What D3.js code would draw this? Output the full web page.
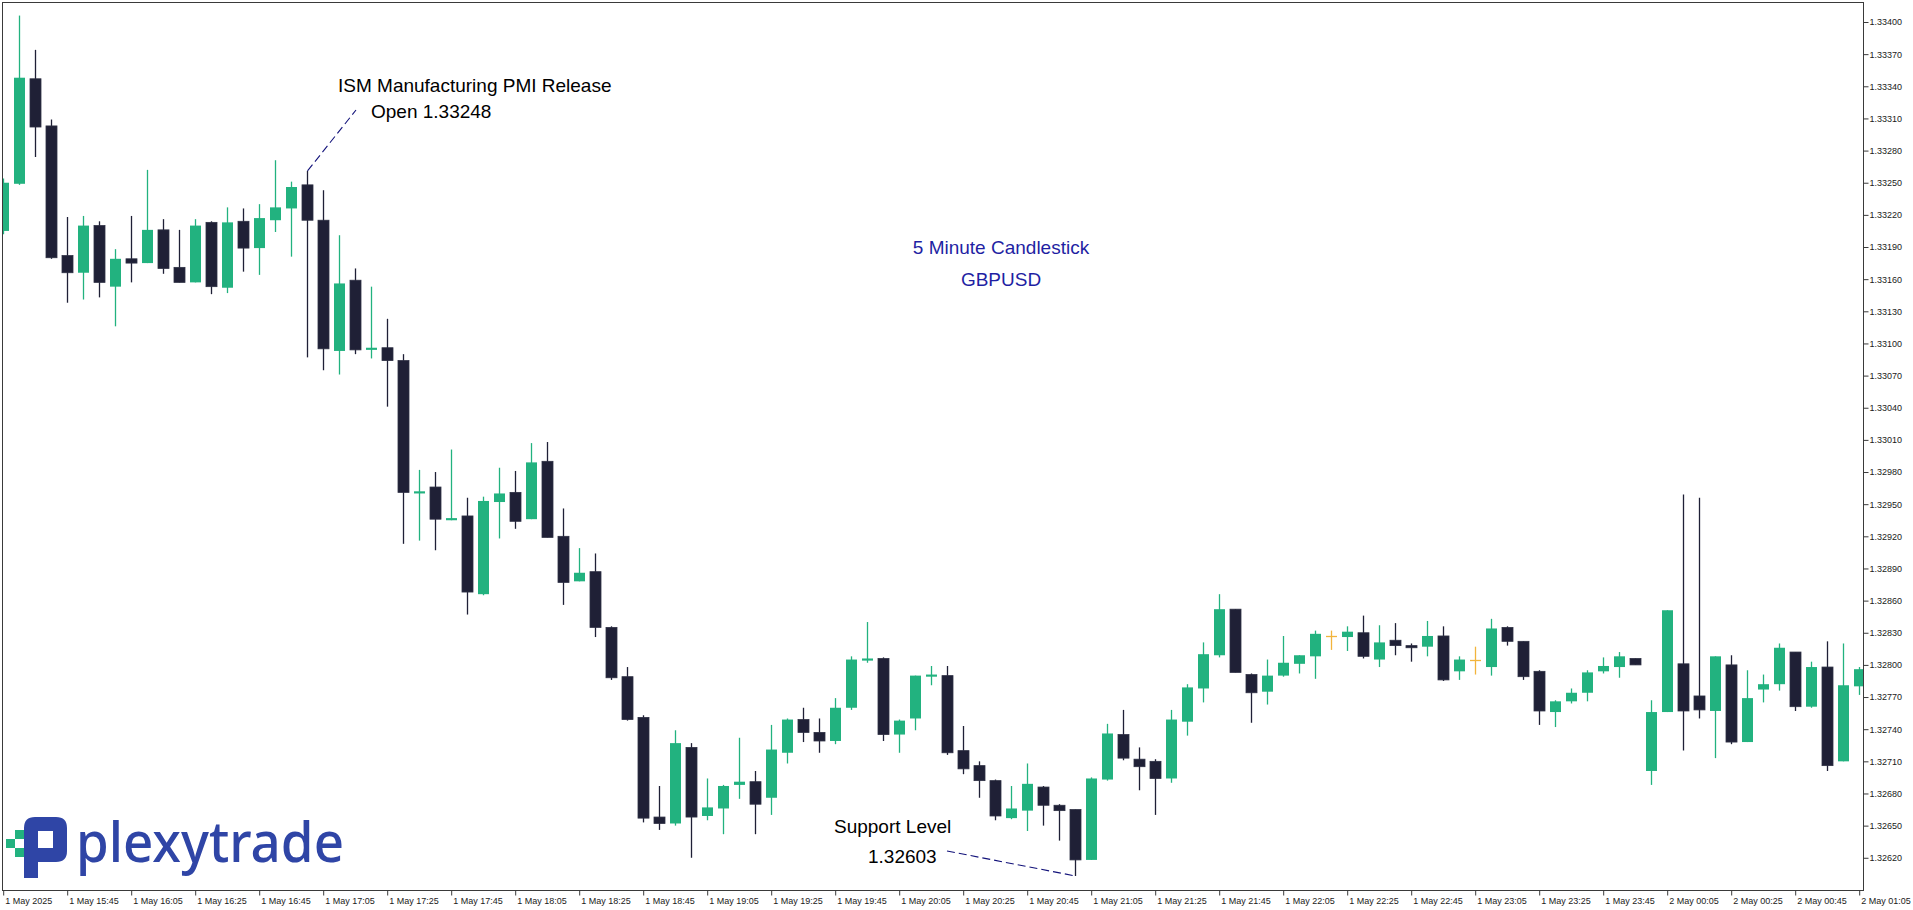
<!DOCTYPE html>
<html>
<head>
<meta charset="utf-8">
<script src="https://cdn.jsdelivr.net/npm/d3@7"></script>
<style>
  html, body { margin: 0; padding: 0; background: #ffffff; }
  svg { display: block; }
</style>
</head>
<body>
<svg id="chart" width="1913" height="910"></svg>
<script>
// ---------------- DATA ----------------
const startTime = "2025-05-01T15:25:00";   // first bar, 5-minute bars
const open = [
1.33205,1.33249,1.33347,1.33303,1.33182,1.33166,1.33210,1.33153,1.33179,1.33175,
1.33206,1.33171,1.33157,1.33213,1.33152,1.33214,1.33189,1.33215,1.33226,1.33248,
1.33215,1.33093,1.33159,1.33094,1.33096,1.33084,1.32960,1.32966,1.32935,1.32939,
1.32866,1.32952,1.32961,1.32936,1.32990,1.32920,1.32878,1.32887,1.32835,1.32789,
1.32751,1.32658,1.32652,1.32723,1.32659,1.32666,1.32688,1.32691,1.32676,1.32718,
1.32749,1.32737,1.32729,1.32760,1.32804,1.32806,1.32735,1.32750,1.32789,1.32790,
1.32720,1.32706,1.32692,1.32657,1.32664,1.32686,1.32669,1.32665,1.32618,1.32693,
1.32735,1.32712,1.32710,1.32694,1.32747,1.32778,1.32809,1.32852,1.32791,1.32775,
1.32790,1.32801,1.32808,1.32827,1.32826,1.32830,1.32805,1.32823,1.32818,1.32817,
1.32827,1.32794,1.32805,1.32798,1.32835,1.32822,1.32794,1.32756,1.32766,1.32774,
1.32794,1.32798,1.32806,1.32701,1.32756,1.32801,1.32771,1.32757,1.32800,1.32728,
1.32777,1.32782,1.32812,1.32761,1.32798,1.32710,1.32780];
const high = [
1.33254,1.33406,1.33374,1.33309,1.33218,1.33219,1.33214,1.33188,1.33219,1.33262,
1.33216,1.33206,1.33216,1.33214,1.33227,1.33226,1.33230,1.33271,1.33251,1.33261,
1.33243,1.33201,1.33170,1.33153,1.33123,1.33090,1.32982,1.32980,1.33001,1.32956,
1.32957,1.32984,1.32981,1.33007,1.33008,1.32946,1.32909,1.32904,1.32836,1.32798,
1.32753,1.32687,1.32739,1.32727,1.32694,1.32688,1.32732,1.32701,1.32744,1.32750,
1.32760,1.32750,1.32769,1.32808,1.32840,1.32807,1.32749,1.32790,1.32799,1.32799,
1.32743,1.32710,1.32693,1.32687,1.32708,1.32687,1.32670,1.32665,1.32695,1.32745,
1.32758,1.32723,1.32712,1.32758,1.32782,1.32821,1.32866,1.32852,1.32792,1.32805,
1.32827,1.32809,1.32832,1.32832,1.32836,1.32846,1.32837,1.32839,1.32820,1.32841,
1.32836,1.32808,1.32817,1.32843,1.32836,1.32822,1.32795,1.32767,1.32778,1.32795,
1.32807,1.32812,1.32806,1.32767,1.32851,1.32959,1.32956,1.32808,1.32809,1.32795,
1.32791,1.32820,1.32812,1.32803,1.32822,1.32820,1.32798];
const low = [
1.33202,1.33248,1.33274,1.33179,1.33138,1.33141,1.33143,1.33116,1.33157,1.33175,
1.33165,1.33157,1.33157,1.33146,1.33147,1.33167,1.33164,1.33204,1.33181,1.33087,
1.33075,1.33071,1.33090,1.33086,1.33041,1.32913,1.32916,1.32907,1.32935,1.32847,
1.32865,1.32918,1.32927,1.32936,1.32919,1.32856,1.32878,1.32826,1.32786,1.32748,
1.32653,1.32646,1.32650,1.32620,1.32655,1.32642,1.32675,1.32642,1.32660,1.32708,
1.32728,1.32718,1.32726,1.32758,1.32802,1.32729,1.32718,1.32739,1.32781,1.32716,
1.32698,1.32676,1.32655,1.32656,1.32645,1.32650,1.32636,1.32603,1.32618,1.32692,
1.32711,1.32683,1.32660,1.32690,1.32734,1.32765,1.32807,1.32793,1.32746,1.32763,
1.32789,1.32792,1.32787,1.32814,1.32813,1.32806,1.32798,1.32809,1.32803,1.32808,
1.32785,1.32786,1.32791,1.32790,1.32818,1.32786,1.32744,1.32742,1.32764,1.32766,
1.32792,1.32788,1.32800,1.32688,1.32756,1.32720,1.32750,1.32713,1.32726,1.32728,
1.32765,1.32776,1.32757,1.32760,1.32701,1.32710,1.32772];
const close = [
1.33250,1.33348,1.33302,1.33180,1.33166,1.33210,1.33157,1.33179,1.33175,1.33206,
1.33170,1.33157,1.33210,1.33153,1.33213,1.33189,1.33217,1.33227,1.33246,1.33215,
1.33095,1.33156,1.33094,1.33096,1.33084,1.32961,1.32962,1.32936,1.32937,1.32868,
1.32953,1.32960,1.32934,1.32989,1.32919,1.32877,1.32886,1.32835,1.32788,1.32749,
1.32657,1.32652,1.32727,1.32658,1.32667,1.32687,1.32691,1.32670,1.32721,1.32749,
1.32737,1.32729,1.32760,1.32805,1.32806,1.32735,1.32748,1.32790,1.32791,1.32718,
1.32703,1.32692,1.32659,1.32666,1.32689,1.32669,1.32664,1.32618,1.32694,1.32736,
1.32713,1.32705,1.32694,1.32749,1.32779,1.32810,1.32852,1.32793,1.32774,1.32790,
1.32802,1.32809,1.32829,1.32827,1.32831,1.32808,1.32821,1.32818,1.32816,1.32827,
1.32786,1.32805,1.32805,1.32834,1.32822,1.32789,1.32757,1.32766,1.32774,1.32793,
1.32799,1.32808,1.32800,1.32756,1.32851,1.32757,1.32758,1.32808,1.32728,1.32769,
1.32782,1.32816,1.32761,1.32798,1.32706,1.32781,1.32796];

const priceTicks = [1.33400,1.33370,1.33340,1.33310,1.33280,1.33250,1.33220,1.33190,1.33160,
  1.33130,1.33100,1.33070,1.33040,1.33010,1.32980,1.32950,1.32920,1.32890,1.32860,1.32830,
  1.32800,1.32770,1.32740,1.32710,1.32680,1.32650,1.32620];
const timeLabels = ["1 May 2025","1 May 15:45","1 May 16:05","1 May 16:25","1 May 16:45",
  "1 May 17:05","1 May 17:25","1 May 17:45","1 May 18:05","1 May 18:25","1 May 18:45",
  "1 May 19:05","1 May 19:25","1 May 19:45","1 May 20:05","1 May 20:25","1 May 20:45",
  "1 May 21:05","1 May 21:25","1 May 21:45","1 May 22:05","1 May 22:25","1 May 22:45",
  "1 May 23:05","1 May 23:25","1 May 23:45","2 May 00:05","2 May 00:25","2 May 00:45",
  "2 May 01:05"];
const labelEveryBars = 4;

const titleLines = ["5 Minute Candlestick", "GBPUSD"];
const ismNote = {bar: 19, lines: ["ISM Manufacturing PMI Release", "Open 1.33248"]};
const supportNote = {bar: 67, lines: ["Support Level", "1.32603"]};

// ---------------- LAYOUT ----------------
const W = 1913, H = 910;
const plot = {left: 2.5, top: 2.5, right: 1863.5, bottom: 890.5};
const colUp = "#22b27f", colDown = "#1f2036", colDoji = "#f2b43c";
const annColor = "#12127a";
const fontAxis = "'Liberation Sans', Arial, sans-serif";

const parse = d3.timeParse("%Y-%m-%dT%H:%M:%S");
const t0 = parse(startTime);
const bars = open.map((o, i) => ({
  t: d3.timeMinute.offset(t0, 5 * i),
  o, h: high[i], l: low[i], c: close[i]
}));

const x = d3.scaleTime()
  .domain([bars[0].t, bars[bars.length - 1].t])
  .range([2.7, 1858.7]);
const y = d3.scaleLinear()
  .domain([1.32620, 1.33400])
  .range([857.77, 22]);

const svg = d3.select("#chart");
svg.append("rect").attr("width", W).attr("height", H).attr("fill", "#fff");

// clip
svg.append("defs").append("clipPath").attr("id", "plotclip")
  .append("rect")
  .attr("x", plot.left + 0.5).attr("y", plot.top + 0.5)
  .attr("width", plot.right - plot.left - 1).attr("height", plot.bottom - plot.top - 1);

// ---------------- CANDLES ----------------
const gC = svg.append("g").attr("clip-path", "url(#plotclip)");
const bodyW = 11;
bars.forEach(b => {
  const cx = Math.round(x(b.t));
  const doji = b.o === b.c;
  const col = doji ? colDoji : (b.c > b.o ? colUp : colDown);
  gC.append("line")
    .attr("x1", cx + 0.5).attr("x2", cx + 0.5)
    .attr("y1", y(b.h)).attr("y2", y(b.l))
    .attr("stroke", col).attr("stroke-width", 1.3);
  if (doji) {
    gC.append("line")
      .attr("x1", cx - 5).attr("x2", cx + 6)
      .attr("y1", Math.round(y(b.o)) + 0.5).attr("y2", Math.round(y(b.o)) + 0.5)
      .attr("stroke", col).attr("stroke-width", 1.3);
  } else {
    const top = y(Math.max(b.o, b.c)), bot = y(Math.min(b.o, b.c));
    const h = Math.max(2, bot - top);
    gC.append("rect")
      .attr("x", cx - 5).attr("width", bodyW)
      .attr("y", top).attr("height", h)
      .attr("fill", col)
      .attr("stroke", b.c > b.o ? "none" : "#2e3044")
      .attr("stroke-width", b.c > b.o ? 0 : 0.8);
  }
});

// ---------------- FRAME & AXES ----------------
svg.append("rect")
  .attr("x", plot.left).attr("y", plot.top)
  .attr("width", plot.right - plot.left).attr("height", plot.bottom - plot.top)
  .attr("fill", "none").attr("stroke", "#3a3a3a").attr("stroke-width", 1);

const yAxis = d3.axisRight(y)
  .tickValues(priceTicks)
  .tickFormat(d => d.toFixed(5))
  .tickSize(5).tickPadding(1);
const gy = svg.append("g").attr("transform", `translate(${plot.right},0)`).call(yAxis);
gy.select(".domain").remove();
gy.selectAll(".tick line").attr("stroke", "#3a3a3a");
gy.selectAll(".tick text").attr("font-family", fontAxis).attr("font-size", 9).attr("fill", "#1a1a1a");

const tickTimes = timeLabels.map((_, k) => bars[k * labelEveryBars].t);
const xAxis = d3.axisBottom(x)
  .tickValues(tickTimes)
  .tickFormat((d, i) => timeLabels[i])
  .tickSize(5).tickPadding(2);
const gx = svg.append("g").attr("transform", `translate(0,${plot.bottom})`).call(xAxis);
gx.select(".domain").remove();
gx.selectAll(".tick line").attr("stroke", "#3a3a3a").attr("transform", "translate(0.5,0)");
gx.selectAll(".tick text")
  .attr("font-family", fontAxis).attr("font-size", 9).attr("fill", "#1a1a1a")
  .attr("text-anchor", "start").attr("x", 2);

// ---------------- TEXTS ----------------
const fontAnn = "'Liberation Sans', Arial, sans-serif";
const title = svg.append("text").attr("font-family", fontAnn).attr("font-size", 19)
  .attr("fill", "#1f1fa3").attr("text-anchor", "middle");
title.append("tspan").attr("x", 1001).attr("y", 254).text(titleLines[0]);
title.append("tspan").attr("x", 1001).attr("y", 286).text(titleLines[1]);

// ISM annotation
const ismBar = bars[ismNote.bar];
svg.append("text").attr("font-family", fontAnn).attr("font-size", 19).attr("fill", "#000")
  .attr("x", 338).attr("y", 92).text(ismNote.lines[0]);
svg.append("text").attr("font-family", fontAnn).attr("font-size", 19).attr("fill", "#000")
  .attr("x", 371).attr("y", 118).text(ismNote.lines[1]);
svg.append("line")
  .attr("x1", Math.round(x(ismBar.t)) + 0.5).attr("y1", y(ismBar.h))
  .attr("x2", 356).attr("y2", 110)
  .attr("stroke", annColor).attr("stroke-width", 1.1).attr("stroke-dasharray", "8,4");

// Support annotation
const supBar = bars[supportNote.bar];
svg.append("text").attr("font-family", fontAnn).attr("font-size", 19).attr("fill", "#000")
  .attr("x", 834).attr("y", 833).text(supportNote.lines[0]);
svg.append("text").attr("font-family", fontAnn).attr("font-size", 19).attr("fill", "#000")
  .attr("x", 868).attr("y", 863).text(supportNote.lines[1]);
svg.append("line")
  .attr("x1", 947).attr("y1", 851)
  .attr("x2", Math.round(x(supBar.t)) + 0.5).attr("y2", y(supBar.l))
  .attr("stroke", annColor).attr("stroke-width", 1.1).attr("stroke-dasharray", "8,4");

// ---------------- LOGO ----------------
const logo = svg.append("g");
logo.append("path")
  .attr("fill-rule", "evenodd")
  .attr("fill", "#2f45a6")
  .attr("d", "M24,878 V828 Q24,817 35,817 H56 Q67,817 67,828 V851 Q67,862 56,862 H38 V878 Z M38,831 V848 H53 V831 Z");
logo.append("rect").attr("x", 6).attr("y", 839).attr("width", 9).attr("height", 9).attr("fill", "#22b27f");
logo.append("rect").attr("x", 15).attr("y", 848).attr("width", 9).attr("height", 9).attr("fill", "#22b27f");
logo.append("rect").attr("x", 15).attr("y", 830).attr("width", 9).attr("height", 9).attr("fill", "#22b27f");
logo.append("text")
  .attr("x", 76).attr("y", 862)
  .attr("font-family", "'Noto Sans', sans-serif").attr("font-weight", 500)
  .attr("font-size", 56).attr("fill", "#2f45a6")
  .attr("textLength", 268).attr("lengthAdjust", "spacingAndGlyphs")
  .text("plexytrade");
</script>
</body>
</html>
